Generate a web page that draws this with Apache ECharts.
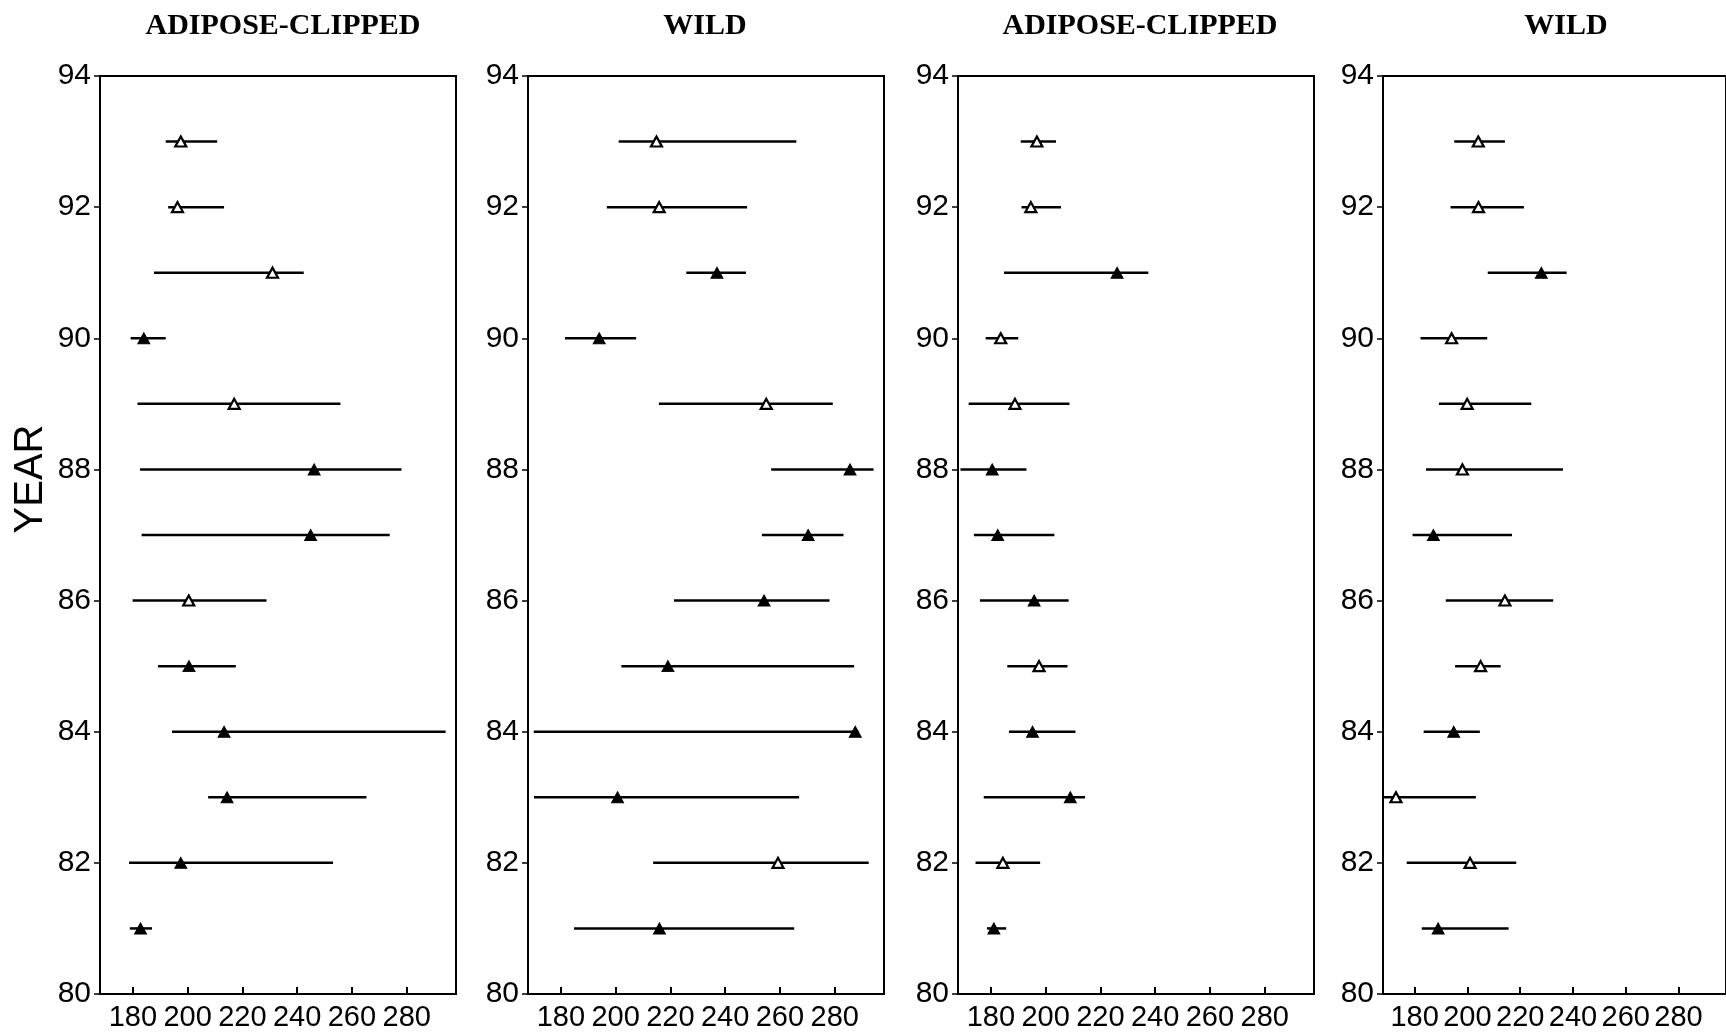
<!DOCTYPE html>
<html>
<head>
<meta charset="utf-8">
<script src="https://cdn.jsdelivr.net/npm/echarts@6/dist/echarts.min.js"></script>
<style>
html,body{margin:0;padding:0;background:#fff;}
#chart{width:1726px;height:1032px;}
</style>
</head>
<body>
<div id="chart"></div>
<script>
// ---- data ----
const years = [81, 82, 83, 84, 85, 86, 87, 88, 89, 90, 91, 92, 93];
const panelTitles = ['ADIPOSE-CLIPPED', 'WILD', 'ADIPOSE-CLIPPED', 'WILD'];
const xTickValues = [180, 200, 220, 240, 260, 280];
const yLabelValues = [80, 82, 84, 86, 88, 90, 92, 94];

const p1Mean = [182.8, 197.5, 214.4, 213.3, 200.5, 200.4, 244.9, 246.2, 217.0, 184.0, 231.0, 196.3, 197.5];
const p1Low  = [178.9, 178.6, 207.5, 194.3, 189.2, 179.9, 183.2, 182.6, 181.7, 179.2, 187.7, 192.9, 192.0];
const p1High = [187.0, 253.1, 265.3, 294.2, 217.6, 228.8, 273.8, 278.1, 255.8, 192.0, 242.4, 213.3, 210.8];
const p1Filled = [1, 1, 1, 1, 1, 0, 1, 1, 0, 1, 0, 0, 0];

const p2Mean = [216.0, 259.3, 200.7, 287.5, 219.1, 254.2, 270.3, 285.6, 255.0, 194.0, 237.0, 215.9, 214.9];
const p2Low  = [184.8, 213.7, 170.2, 170.1, 202.1, 221.3, 253.4, 256.8, 215.8, 181.5, 225.8, 196.8, 201.1];
const p2High = [265.2, 292.4, 267.0, 288.7, 287.1, 278.1, 283.2, 294.2, 279.3, 207.5, 247.6, 248.0, 266.0];
const p2Filled = [1, 0, 1, 1, 1, 1, 1, 1, 0, 1, 1, 0, 0];

const p3Mean = [181.1, 184.4, 209.0, 195.2, 197.6, 195.8, 182.5, 180.5, 188.8, 183.6, 226.1, 194.6, 196.8];
const p3Low  = [178.6, 174.4, 177.4, 186.6, 186.0, 176.0, 173.8, 168.9, 171.9, 178.1, 184.8, 191.2, 190.9];
const p3High = [185.6, 198.0, 214.4, 210.9, 208.0, 208.4, 203.2, 193.0, 208.7, 190.0, 237.5, 205.6, 203.8];
const p3Filled = [1, 0, 1, 1, 0, 1, 1, 1, 0, 0, 1, 0, 0];

const p4Mean = [188.9, 201.0, 172.9, 194.8, 205.0, 214.2, 187.1, 198.1, 199.9, 194.0, 228.0, 204.2, 204.1];
const p4Low  = [182.7, 177.0, 168.4, 183.4, 195.3, 191.8, 179.2, 184.3, 189.2, 182.2, 207.7, 193.6, 195.0];
const p4High = [215.6, 218.5, 203.2, 204.7, 212.6, 232.5, 216.9, 236.2, 224.2, 207.5, 237.6, 221.4, 214.2];
const p4Filled = [1, 0, 0, 1, 0, 0, 1, 0, 0, 0, 1, 0, 0];

const panels = [
  {mean: p1Mean, low: p1Low, high: p1High, filled: p1Filled},
  {mean: p2Mean, low: p2Low, high: p2High, filled: p2Filled},
  {mean: p3Mean, low: p3Low, high: p3High, filled: p3Filled},
  {mean: p4Mean, low: p4Low, high: p4High, filled: p4Filled}
];

// ---- layout ----
const gridLefts = [100, 528, 958, 1383];
const gridWidth = 356;
const gridTop = 76;
const gridHeight = 919;
const sansFont = "'Liberation Sans', Arial, Helvetica, sans-serif";
const serifFont = "'Liberation Serif', 'Times New Roman', serif";

const chart = echarts.init(document.getElementById('chart'), null, {renderer: 'canvas'});

const grids = [], xAxes = [], yAxes = [], series = [], titles = [];
panels.forEach((p, i) => {
  grids.push({
    left: gridLefts[i], top: gridTop, width: gridWidth, height: gridHeight,
    show: true, borderColor: '#000', borderWidth: 2, backgroundColor: 'transparent'
  });
  xAxes.push({
    type: 'value', gridIndex: i, min: 168, max: 298,
    axisLine: {show: true, onZero: false, lineStyle: {color: '#000', width: 2}},
    axisTick: {show: true, inside: true, length: 7, customValues: xTickValues, lineStyle: {color: '#000', width: 2}},
    axisLabel: {show: true, customValues: xTickValues, color: '#000', fontSize: 29, fontFamily: sansFont, margin: 9},
    splitLine: {show: false}
  });
  yAxes.push({
    type: 'value', gridIndex: i, min: 80, max: 94,
    axisLine: {show: true, onZero: false, lineStyle: {color: '#000', width: 2}},
    axisTick: {show: true, inside: false, length: 6, customValues: yLabelValues, lineStyle: {color: '#000', width: 1.5}},
    axisLabel: {show: true, customValues: yLabelValues, color: '#000', fontSize: 30, fontFamily: sansFont, margin: 9, padding: [12, 0, 0, 0]},
    splitLine: {show: false}
  });
  titles.push({
    text: panelTitles[i],
    left: gridLefts[i] + gridWidth / 2 - (i === 1 ? 6 : 0) - (i === 2 ? 1 : 0),
    top: 6,
    textAlign: 'center',
    textStyle: {fontFamily: serifFont, fontWeight: 'bold', fontSize: 30, color: '#000'}
  });

  const segData = years.map((y, k) => [p.low[k], p.high[k], y]);
  series.push({
    type: 'custom', xAxisIndex: i, yAxisIndex: i,
    encode: {x: [0, 1], y: 2},
    data: segData,
    renderItem: function (params, api) {
      const a = api.coord([api.value(0), api.value(2)]);
      const b = api.coord([api.value(1), api.value(2)]);
      return {type: 'line', shape: {x1: a[0], y1: a[1], x2: b[0], y2: b[1]}, style: {stroke: '#000', lineWidth: 2.5}};
    },
    silent: true, z: 2
  });
  const filledPts = [], openPts = [];
  years.forEach((y, k) => {
    (p.filled[k] ? filledPts : openPts).push([p.mean[k], y]);
  });
  series.push({
    type: 'scatter', xAxisIndex: i, yAxisIndex: i, data: filledPts,
    symbol: 'triangle', symbolSize: [12, 11],
    itemStyle: {color: '#000', borderColor: '#000', borderWidth: 1, opacity: 1},
    z: 3, silent: true
  });
  series.push({
    type: 'scatter', xAxisIndex: i, yAxisIndex: i, data: openPts,
    symbol: 'triangle', symbolSize: [11, 10],
    itemStyle: {color: '#fff', borderColor: '#000', borderWidth: 2.2, opacity: 1},
    z: 3, silent: true
  });
});

chart.setOption({
  backgroundColor: '#fff',
  animation: false,
  title: titles,
  grid: grids,
  xAxis: xAxes,
  yAxis: yAxes,
  series: series,
  graphic: [{
    type: 'text', x: 31, y: 479, rotation: Math.PI / 2,
    style: {text: 'YEAR', fontSize: 40, fontFamily: sansFont, fill: '#000', align: 'center', verticalAlign: 'middle'}
  }]
});
</script>
</body>
</html>
